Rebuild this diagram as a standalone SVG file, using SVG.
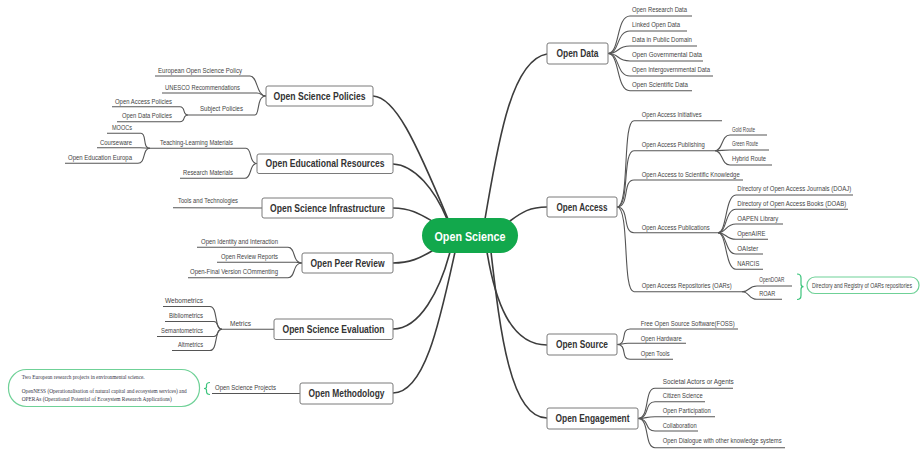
<svg xmlns="http://www.w3.org/2000/svg" width="920" height="450" viewBox="0 0 920 450">
<style>
.bg{fill:#ffffff}
.main{fill:#ffffff;stroke:#7a7a7a;stroke-width:1}
.mt{font-family:"Liberation Sans",Arial,sans-serif;font-size:10px;font-weight:bold;fill:#333333;text-anchor:middle}
.ct{font-family:"Liberation Sans",Arial,sans-serif;font-size:12px;font-weight:bold;fill:#ffffff;text-anchor:middle}
.st{font-family:"Liberation Sans",Arial,sans-serif;font-size:7px;fill:#444444}
.sm{font-size:6.3px}
.sl{text-anchor:end}
.mc{fill:none;stroke:#3c3c3c;stroke-width:1.6;stroke-linecap:round}
.sc{fill:none;stroke:#555555;stroke-width:1.1}
.gr{fill:none;stroke:#3cc47c;stroke-width:1.2}
.nb{fill:#ffffff;stroke:#6fd197;stroke-width:1.2}
.nt{font-family:"Liberation Serif","Times New Roman",serif;font-size:5.5px;fill:#333344}
</style>
<rect class="bg" x="0" y="0" width="920" height="450"/>

<g id="connectors">
  <path class="mc" d="M373,96 C395,97 415,140 448,219"/>
  <path class="mc" d="M393,164 C415,165 435,190 447,219"/>
  <path class="mc" d="M393,208 C410,208 420,214 432,221"/>
  <path class="mc" d="M393,263 C410,263 420,258 432,251"/>
  <path class="mc" d="M393,329 C420,329 440,290 450,252"/>
  <path class="mc" d="M393,393 C425,393 440,320 455,252"/>
  <path class="mc" d="M485,219 C497,150 510,60 547,54"/>
  <path class="mc" d="M510,221 C522,212 530,207 547,207"/>
  <path class="mc" d="M487,252 C495,300 510,345 547,345"/>
  <path class="mc" d="M491,252 C500,330 510,418 547,418"/>

  <path class="sc" d="M266,96 C256,96 258,76 250,76 L155,76"/>
  <path class="sc" d="M266,96 C260,96 262,93 257,93 L162,93"/>
  <path class="sc" d="M266,96 C256,96 260,115 255,115 L188,115"/>
  <path class="sc" d="M188,115 C182,115 186,106.7 180,106.7 L112,106.7"/>
  <path class="sc" d="M188,115 C182,115 186,121.7 180,121.7 L117,121.7"/>
  <path class="sc" d="M257,163.5 C249,163.5 252,148.3 246,148.3 L150,148.3"/>
  <path class="sc" d="M257,163.5 C249,163.5 252,178.3 245,178.3 L180,178.3"/>
  <path class="sc" d="M150,148.3 C142,148.3 147,133.3 141,133.3 L107,133.3"/>
  <path class="sc" d="M150,148.3 C145,148.3 145,147.7 140,147.7 L97,147.7"/>
  <path class="sc" d="M150,148.3 C142,148.3 146,163.3 138,163.3 L65,163.3"/>
  <path class="sc" d="M262,208 L173,207.7"/>
  <path class="sc" d="M302,263 C292,263 296,247.3 288,247.3 L197,247.3"/>
  <path class="sc" d="M302,263 C299,263 299,262.3 296,262.3 L217,262.3"/>
  <path class="sc" d="M302,263 C292,263 296,277.7 288,277.7 L188,277.7"/>
  <path class="sc" d="M274,329.3 L222,329.3"/>
  <path class="sc" d="M222,329.3 C214,329.3 218,306.5 210,306.5 L163,306.5"/>
  <path class="sc" d="M222,329.3 C216,329.3 219,321.5 214,321.5 L165,321.5"/>
  <path class="sc" d="M222,329.3 C216,329.3 219,336.5 214,336.5 L157,336.5"/>
  <path class="sc" d="M222,329.3 C214,329.3 218,350.5 210,350.5 L172,350.5"/>
  <path class="sc" d="M300,393.5 L212,393.5"/>

  <path class="sc" d="M608,53.5 C620,53.5 616,16 630,16 L692,16"/>
  <path class="sc" d="M608,53.5 C620,53.5 616,31 630,31 L687,31"/>
  <path class="sc" d="M608,53.5 C620,53.5 616,46 630,46 L697,46"/>
  <path class="sc" d="M608,53.5 C620,53.5 616,61 630,61 L703,61"/>
  <path class="sc" d="M608,53.5 C620,53.5 616,76 630,76 L713,76"/>
  <path class="sc" d="M608,53.5 C620,53.5 616,90.7 630,90.7 L692,90.7"/>
  <path class="sc" d="M617,207 C630,207 622,120.7 634,120.7 L722,120.7"/>
  <path class="sc" d="M617,207 C630,207 622,150.7 634,150.7 L715,150.7"/>
  <path class="sc" d="M617,207 C630,207 622,180 634,180 L743,180"/>
  <path class="sc" d="M617,207 C630,207 622,232.7 634,232.7 L718,232.7"/>
  <path class="sc" d="M617,207 C630,207 622,291.7 634,291.7 L742,291.7"/>
  <path class="sc" d="M715,150.7 C723,150.7 721,135 730,135 L767,135"/>
  <path class="sc" d="M715,150.7 C722,150.7 722,150 730,150 L769,150"/>
  <path class="sc" d="M715,150.7 C723,150.7 721,165 730,165 L772,165"/>
  <path class="sc" d="M718,232.7 C727,232.7 725,195 736,195 L853,195"/>
  <path class="sc" d="M718,232.7 C727,232.7 725,209.3 736,209.3 L848,209.3"/>
  <path class="sc" d="M718,232.7 C727,232.7 725,224 736,224 L783,224"/>
  <path class="sc" d="M718,232.7 C727,232.7 725,239.3 736,239.3 L768,239.3"/>
  <path class="sc" d="M718,232.7 C727,232.7 725,254 736,254 L763,254"/>
  <path class="sc" d="M718,232.7 C727,232.7 725,269.3 736,269.3 L763,269.3"/>
  <path class="sc" d="M742,291.7 C750,291.7 748,286 757,286 L792,286"/>
  <path class="sc" d="M742,291.7 C750,291.7 748,299.3 757,299.3 L782,299.3"/>
  <path class="sc" d="M617,344.5 C628,344.5 620,329 630,329 L738,329"/>
  <path class="sc" d="M617,344.5 C622,344.5 622,343.3 628,343.3 L686,343.3"/>
  <path class="sc" d="M617,344.5 C628,344.5 620,359.3 630,359.3 L673,359.3"/>
  <path class="sc" d="M638,418.5 C650,418.5 644,388.3 655,388.3 L733,388.3"/>
  <path class="sc" d="M638,418.5 C650,418.5 644,401.7 655,401.7 L705,401.7"/>
  <path class="sc" d="M638,418.5 C646,418.5 646,416.7 655,416.7 L715,416.7"/>
  <path class="sc" d="M638,418.5 C650,418.5 644,431 655,431 L698,431"/>
  <path class="sc" d="M638,418.5 C650,418.5 644,447.7 655,447.7 L785,447.7"/>
</g>

<g id="center">
  <rect x="422" y="218" width="96" height="35" rx="17.5" fill="#12a84c"/>
  <text class="ct" x="470" y="240.5" textLength="71" lengthAdjust="spacingAndGlyphs">Open Science</text>
</g>

<g id="policies">
  <rect class="main" x="266" y="86" width="107" height="20" rx="2"/>
  <text class="mt" x="319.5" y="99.5" textLength="92" lengthAdjust="spacingAndGlyphs">Open Science Policies</text>
  <text class="st sl" x="242" y="73" textLength="84" lengthAdjust="spacingAndGlyphs">European Open Science Policy</text>
  <text class="st sl" x="240" y="89.5" textLength="75" lengthAdjust="spacingAndGlyphs">UNESCO Recommendations</text>
  <text class="st sl" x="243" y="111" textLength="43" lengthAdjust="spacingAndGlyphs">Subject Policies</text>
  <text class="st sl" x="172" y="103.5" textLength="57" lengthAdjust="spacingAndGlyphs">Open Access Policies</text>
  <text class="st sl" x="172" y="118" textLength="50" lengthAdjust="spacingAndGlyphs">Open Data Policies</text>
</g>

<g id="oer">
  <rect class="main" x="257" y="154" width="136" height="19.5" rx="2"/>
  <text class="mt" x="325" y="167" textLength="119" lengthAdjust="spacingAndGlyphs">Open Educational Resources</text>
  <text class="st sl" x="233" y="145" textLength="73" lengthAdjust="spacingAndGlyphs">Teaching-Learning Materials</text>
  <text class="st sl" x="233" y="174.5" textLength="50" lengthAdjust="spacingAndGlyphs">Research Materials</text>
  <text class="st sl" x="132" y="130" textLength="20" lengthAdjust="spacingAndGlyphs">MOOCs</text>
  <text class="st sl" x="132" y="145" textLength="32" lengthAdjust="spacingAndGlyphs">Courseware</text>
  <text class="st sl" x="132" y="159.5" textLength="64" lengthAdjust="spacingAndGlyphs">Open Education Europa</text>
</g>

<g id="infrastructure">
  <rect class="main" x="262" y="198" width="131" height="20" rx="2"/>
  <text class="mt" x="327.5" y="211.5" textLength="115" lengthAdjust="spacingAndGlyphs">Open Science Infrastructure</text>
  <text class="st sl" x="238" y="203" textLength="60" lengthAdjust="spacingAndGlyphs">Tools and Technologies</text>
</g>

<g id="peer-review">
  <rect class="main" x="302" y="253" width="91" height="20" rx="2"/>
  <text class="mt" x="347.5" y="266.5" textLength="74" lengthAdjust="spacingAndGlyphs">Open Peer Review</text>
  <text class="st sl" x="278" y="243.5" textLength="77" lengthAdjust="spacingAndGlyphs">Open Identity and Interaction</text>
  <text class="st sl" x="278" y="258.5" textLength="57" lengthAdjust="spacingAndGlyphs">Open Review Reports</text>
  <text class="st sl" x="278" y="273.5" textLength="88" lengthAdjust="spacingAndGlyphs">Open-Final Version COmmenting</text>
</g>

<g id="evaluation">
  <rect class="main" x="274" y="319" width="119" height="20.5" rx="2"/>
  <text class="mt" x="333.5" y="332.5" textLength="102" lengthAdjust="spacingAndGlyphs">Open Science Evaluation</text>
  <text class="st sl" x="251" y="325.5" textLength="21" lengthAdjust="spacingAndGlyphs">Metrics</text>
  <text class="st sl" x="203" y="303" textLength="38" lengthAdjust="spacingAndGlyphs">Webometrics</text>
  <text class="st sl" x="203" y="318" textLength="34" lengthAdjust="spacingAndGlyphs">Bibliometrics</text>
  <text class="st sl" x="203" y="332.5" textLength="42" lengthAdjust="spacingAndGlyphs">Semantometrics</text>
  <text class="st sl" x="203" y="347" textLength="25" lengthAdjust="spacingAndGlyphs">Altmetrics</text>
</g>

<g id="methodology">
  <rect class="main" x="300" y="383" width="93" height="21" rx="2"/>
  <text class="mt" x="346.5" y="397" textLength="76" lengthAdjust="spacingAndGlyphs">Open Methodology</text>
  <text class="st sl" x="276" y="389.5" textLength="61" lengthAdjust="spacingAndGlyphs">Open Science Projects</text>
  <path class="gr" d="M210,382.5 Q206.5,382.5 206.5,385.5 L206.5,387 Q206.5,388.5 204,388.5 Q206.5,388.5 206.5,390 L206.5,391.5 Q206.5,394.5 210,394.5"/>
  <rect class="nb" x="8.5" y="369.5" width="191" height="37" rx="18"/>
  <text class="nt" x="21.7" y="378.5" textLength="123" lengthAdjust="spacingAndGlyphs">Two European research projects in environmental science.</text>
  <text class="nt" x="21.7" y="392.5" textLength="165" lengthAdjust="spacingAndGlyphs">OpenNESS (Operationalisation of natural capital and ecosystem services) and</text>
  <text class="nt" x="21.7" y="400.5" textLength="150" lengthAdjust="spacingAndGlyphs">OPERAs (Operational Potential of Ecosystem Research Applications)</text>
</g>

<g id="open-data">
  <rect class="main" x="547" y="43" width="61" height="21" rx="2"/>
  <text class="mt" x="577.5" y="57" textLength="42" lengthAdjust="spacingAndGlyphs">Open Data</text>
  <text class="st" x="632" y="12" textLength="55" lengthAdjust="spacingAndGlyphs">Open Research Data</text>
  <text class="st" x="632" y="27" textLength="48" lengthAdjust="spacingAndGlyphs">Linked Open Data</text>
  <text class="st" x="632" y="42" textLength="60" lengthAdjust="spacingAndGlyphs">Data in Public Domain</text>
  <text class="st" x="632" y="57" textLength="70" lengthAdjust="spacingAndGlyphs">Open Governmental Data</text>
  <text class="st" x="632" y="72" textLength="78" lengthAdjust="spacingAndGlyphs">Open Intergovernmental Data</text>
  <text class="st" x="632" y="86.5" textLength="56" lengthAdjust="spacingAndGlyphs">Open Scientific Data</text>
</g>

<g id="open-access">
  <rect class="main" x="547" y="197" width="70" height="20" rx="2"/>
  <text class="mt" x="582" y="210.5" textLength="51" lengthAdjust="spacingAndGlyphs">Open Access</text>
  <text class="st" x="641.7" y="116.5" textLength="60" lengthAdjust="spacingAndGlyphs">Open Access Initiatives</text>
  <text class="st" x="641.7" y="146.5" textLength="63" lengthAdjust="spacingAndGlyphs">Open Access Publishing</text>
  <text class="st sm" x="732" y="131.5" textLength="23" lengthAdjust="spacingAndGlyphs">Gold Route</text>
  <text class="st sm" x="732" y="146" textLength="26" lengthAdjust="spacingAndGlyphs">Green Route</text>
  <text class="st sm" x="732" y="161" textLength="34" lengthAdjust="spacingAndGlyphs">Hybrid Route</text>
  <text class="st" x="641.7" y="176.5" textLength="98" lengthAdjust="spacingAndGlyphs">Open Access to Scientific Knowledge</text>
  <text class="st" x="641.7" y="229.5" textLength="68" lengthAdjust="spacingAndGlyphs">Open Access Publications</text>
  <text class="st" x="737.3" y="191" textLength="114" lengthAdjust="spacingAndGlyphs">Directory of Open Access Journals (DOAJ)</text>
  <text class="st" x="737.3" y="206" textLength="109" lengthAdjust="spacingAndGlyphs">Directory of Open Access Books (DOAB)</text>
  <text class="st" x="737.3" y="220.5" textLength="41" lengthAdjust="spacingAndGlyphs">OAPEN Library</text>
  <text class="st" x="737.3" y="235.5" textLength="28" lengthAdjust="spacingAndGlyphs">OpenAIRE</text>
  <text class="st" x="737.3" y="250.5" textLength="21" lengthAdjust="spacingAndGlyphs">OAIster</text>
  <text class="st" x="737.3" y="265.5" textLength="22" lengthAdjust="spacingAndGlyphs">NARCIS</text>
  <text class="st" x="641.7" y="288" textLength="90" lengthAdjust="spacingAndGlyphs">Open Access Repositories (OARs)</text>
  <text class="st sm" x="759.3" y="282" textLength="25" lengthAdjust="spacingAndGlyphs">OpenDOAR</text>
  <text class="st" x="759.3" y="296" textLength="16" lengthAdjust="spacingAndGlyphs">ROAR</text>
  <path class="gr" d="M797,274 Q801,274 801,278 L801,284 Q801,286.7 803.5,286.7 Q801,286.7 801,289.5 L801,295.5 Q801,299.5 797,299.5"/>
  <rect class="nb" x="807" y="277" width="112" height="16.5" rx="8"/>
  <text class="st" x="812" y="287.5" textLength="100" lengthAdjust="spacingAndGlyphs" fill="#333333">Directory and Registry of OARs repositories</text>
</g>

<g id="open-source">
  <rect class="main" x="547" y="334" width="70" height="21" rx="2"/>
  <text class="mt" x="582" y="348" textLength="52" lengthAdjust="spacingAndGlyphs">Open Source</text>
  <text class="st" x="640.7" y="326" textLength="94" lengthAdjust="spacingAndGlyphs">Free Open Source Software(FOSS)</text>
  <text class="st" x="640.7" y="341" textLength="41" lengthAdjust="spacingAndGlyphs">Open Hardware</text>
  <text class="st" x="640.7" y="355.5" textLength="29" lengthAdjust="spacingAndGlyphs">Open Tools</text>
</g>

<g id="open-engagement">
  <rect class="main" x="547" y="408" width="91" height="21" rx="2"/>
  <text class="mt" x="592.5" y="422" textLength="74" lengthAdjust="spacingAndGlyphs">Open Engagement</text>
  <text class="st" x="662.7" y="384" textLength="71" lengthAdjust="spacingAndGlyphs">Societal Actors or Agents</text>
  <text class="st" x="662.7" y="398" textLength="40" lengthAdjust="spacingAndGlyphs">Citizen Science</text>
  <text class="st" x="662.7" y="413" textLength="48" lengthAdjust="spacingAndGlyphs">Open Participation</text>
  <text class="st" x="662.7" y="428" textLength="34" lengthAdjust="spacingAndGlyphs">Collaboration</text>
  <text class="st" x="662.7" y="443" textLength="119" lengthAdjust="spacingAndGlyphs">Open Dialogue with other knowledge systems</text>
</g>
</svg>
